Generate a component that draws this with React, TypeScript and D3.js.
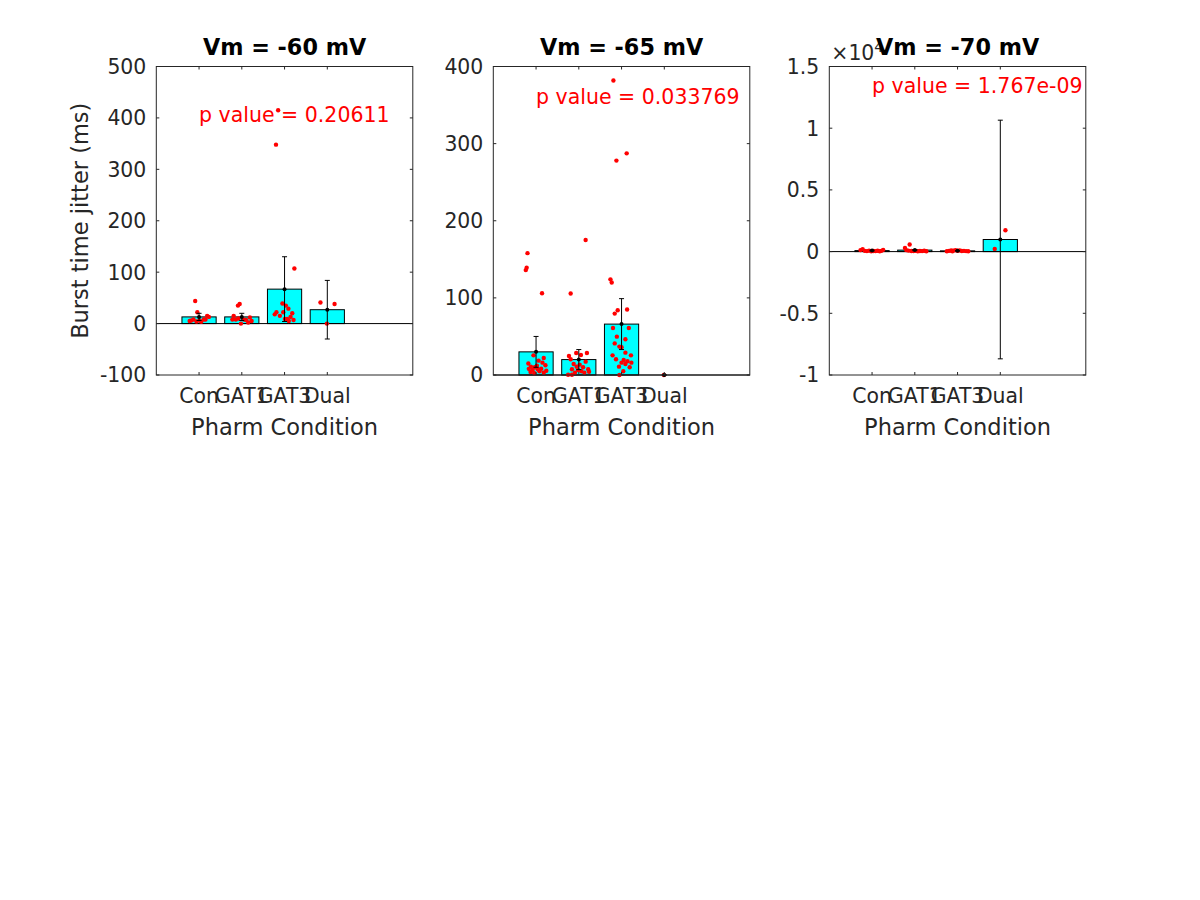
import React from "react";
import * as d3 from "d3";

// ---------- data ----------
const categories = ["Con", "GAT1", "GAT3", "Dual"];
const titles = ["Vm = -60 mV", "Vm = -65 mV", "Vm = -70 mV"];
const pValueLabels = ["p value = 0.20611", "p value = 0.033769", "p value = 1.767e-09"];
const pValueY = [393, 351, 1.284]; // data-space baseline of the p value text

const yDomain60 = [-100, 500];
const yDomain65 = [0, 400];
const yDomain70 = [-1, 1.5];
const yTicks60 = [-100, 0, 100, 200, 300, 400, 500];
const yTicks65 = [0, 100, 200, 300, 400];
const yTicks70 = [-1, -0.5, 0, 0.5, 1, 1.5];

const means60 = [13, 13, 67, 27];
const sems60 = [7, 7, 63, 57];
const means65 = [30, 20, 66, 0];
const sems65 = [20, 13, 33, 0];
const means70 = [0.008, 0.012, 0.006, 0.098];
const sems70 = [0.003, 0.004, 0.002, 0.967];

// individual cells: [jitter offset (category units), value]
const pts60Con = [[-0.09, 44], [-0.04, 22], [-0.22, 5], [-0.18, 6], [-0.13, 8], [0.01, 6], [0.05, 3.5], [0.11, 8], [0.15, 8], [0.19, 15], [0.23, 13], [-0.06, 4]];
const pts60GAT1 = [[-0.09, 35], [-0.05, 38], [-0.19, 15], [-0.22, 8], [-0.14, 8], [-0.02, 0], [0.05, 8], [0.1, 7], [0.15, 2], [0.19, 12], [0.23, 5], [-0.08, 10]];
const pts60GAT3 = [[0.23, 107], [-0.15, 415], [-0.2, 348], [-0.05, 39], [0.03, 35], [0.09, 29], [-0.19, 22], [-0.23, 18], [-0.11, 15], [-0.03, 22], [0.18, 20], [0.14, 13], [0.01, 9], [0.06, 9], [0.21, 7], [0.1, 5]];
const pts60Dual = [[-0.16, 41], [0.17, 38], [-0.01, 0]];

const pts65Con = [[-0.2, 158], [-0.22, 139], [-0.24, 136], [0.14, 106], [-0.06, 25.5], [0.18, 22], [-0.18, 15], [0.06, 18.6], [0.15, 16], [0.22, 12.6], [-0.12, 10.8], [-0.03, 10], [0.04, 7.4], [0.12, 8.2], [-0.13, 3.9], [-0.04, 2.2], [0.08, 4.8], [0.24, 5.6], [-0.08, 6.5], [-0.17, 8], [0.02, 12], [0.18, 3]];
const pts65GAT1 = [[-0.19, 105.6], [0.16, 175], [-0.23, 24.7], [-0.19, 20.4], [-0.06, 28.6], [0.05, 26], [0.19, 28.6], [-0.12, 14.3], [-0.05, 10.8], [0.02, 13.4], [0.1, 10], [0.16, 17.3], [0.22, 7.4], [-0.16, 7.4], [-0.02, 6.5], [0.06, 4.8], [-0.25, 0.4], [-0.16, 0.4], [-0.09, 3], [0.13, 3], [0.24, 4.3]];
const pts65GAT3 = [[-0.19, 381.8], [0.12, 287.4], [-0.12, 278], [-0.26, 124], [-0.23, 120], [0.13, 85], [-0.09, 84], [-0.16, 79.6], [-0.2, 61], [0.17, 61], [-0.11, 49.7], [0.09, 46.3], [-0.16, 41], [-0.05, 36.8], [0.0, 35.9], [0.22, 25.5], [-0.21, 25.5], [0.09, 29], [-0.13, 20.4], [0.05, 19.5], [0.23, 16], [0.0, 16], [-0.06, 10.8], [0.19, 10], [0.09, 14.3], [0.04, 4.8], [-0.05, 0], [0.14, 17.8]];
const pts65Dual = [[-0.01, 0]];

const pts70Con = [[-0.27, 0.012], [-0.22, 0.02], [-0.17, 0.006], [-0.12, 0.004], [-0.07, 0.008], [-0.02, 0.003], [0.03, 0.005], [0.08, 0.004], [0.13, 0.007], [0.18, 0.003], [0.22, 0.006], [0.26, 0.014]];
const pts70GAT1 = [[-0.12, 0.057], [-0.23, 0.03], [-0.2, 0.012], [-0.15, 0.008], [-0.08, 0.005], [-0.03, 0.004], [0.02, 0.006], [0.07, 0.003], [0.12, 0.005], [0.17, 0.004], [0.22, 0.007], [0.27, 0.003]];
const pts70GAT3 = [[-0.25, 0.003], [-0.2, 0.006], [-0.15, 0.009], [-0.1, 0.008], [-0.05, 0.012], [0.0, 0.007], [0.05, 0.01], [0.1, 0.005], [0.15, 0.006], [0.2, 0.004], [0.25, 0.003], [-0.12, 0.002]];
const pts70Dual = [[0.12, 0.173], [-0.13, 0.022]];

const panels = [
  { title: titles[0], p: pValueLabels[0], pY: pValueY[0], domain: yDomain60, ticks: yTicks60, means: means60, sems: sems60, pts: [pts60Con, pts60GAT1, pts60GAT3, pts60Dual], exp: null },
  { title: titles[1], p: pValueLabels[1], pY: pValueY[1], domain: yDomain65, ticks: yTicks65, means: means65, sems: sems65, pts: [pts65Con, pts65GAT1, pts65GAT3, pts65Dual], exp: null },
  { title: titles[2], p: pValueLabels[2], pY: pValueY[2], domain: yDomain70, ticks: yTicks70, means: means70, sems: sems70, pts: [pts70Con, pts70GAT1, pts70GAT3, pts70Dual], exp: "4" },
];

// ---------- layout ----------
const boxLefts = [156.3, 493.3, 829.3];
const boxWidth = 256.5;
const boxTop = 66.5;
const boxBottom = 375;
const FONT = "'DejaVu Sans', sans-serif";
const AX = "#262626";

function Panel({ cfg, left, showYLabel }: any) {
  const x = d3.scaleLinear().domain([0, 6]).range([left, left + boxWidth]);
  const y = d3.scaleLinear().domain(cfg.domain).range([boxBottom, boxTop]);
  const barW = x(0.8) - x(0);
  const tl = 3;
  const capW = 2.5;
  const fmt = (v: number) => String(v);
  const right = left + boxWidth;
  const cx = left + boxWidth / 2;
  return (
    <g>
      {cfg.means.map((m: number, i: number) => {
        const y0 = y(0), y1 = y(m);
        return (
          <rect key={"b" + i} x={x(i + 1) - barW / 2} y={Math.min(y0, y1)} width={barW} height={Math.abs(y1 - y0)} fill="#00FFFF" stroke="#000" strokeWidth={1} />
        );
      })}
      <line x1={left} x2={right} y1={y(0)} y2={y(0)} stroke="#000" strokeWidth={1} />
      {cfg.pts.map((arr: number[][], i: number) =>
        arr.map((p, j) => <circle key={"p" + i + "_" + j} cx={x(i + 1 + p[0])} cy={y(p[1])} r={2.2} fill="#FF0000" />)
      )}
      {cfg.means.map((m: number, i: number) => {
        const xc = x(i + 1);
        const yt = y(m + cfg.sems[i]);
        const yb = y(m - cfg.sems[i]);
        return (
          <g key={"e" + i} stroke="#000" strokeWidth={1}>
            <line x1={xc} x2={xc} y1={yt} y2={yb} />
            <line x1={xc - capW} x2={xc + capW} y1={yt} y2={yt} />
            <line x1={xc - capW} x2={xc + capW} y1={yb} y2={yb} />
            <circle cx={xc} cy={y(m)} r={2} fill="#000" stroke="none" />
          </g>
        );
      })}
      <rect x={left} y={boxTop} width={boxWidth} height={boxBottom - boxTop} fill="none" stroke={AX} strokeWidth={1} />
      {cfg.ticks.map((t: number) => (
        <g key={"yt" + t}>
          <line x1={left} x2={left + tl} y1={y(t)} y2={y(t)} stroke={AX} />
          <line x1={right} x2={right - tl} y1={y(t)} y2={y(t)} stroke={AX} />
          <text x={left - 10} y={y(t)} dy="0.36em" textAnchor="end" fontSize={20.4} fill={AX} fontFamily={FONT}>{fmt(t)}</text>
        </g>
      ))}
      {categories.map((c, i) => (
        <g key={"xt" + c}>
          <line x1={x(i + 1)} x2={x(i + 1)} y1={boxBottom} y2={boxBottom - tl} stroke={AX} />
          <line x1={x(i + 1)} x2={x(i + 1)} y1={boxTop} y2={boxTop + tl} stroke={AX} />
          <text x={x(i + 1)} y={403} textAnchor="middle" fontSize={20.4} fill={AX} fontFamily={FONT}>{c}</text>
        </g>
      ))}
      {cfg.exp && (
        <text x={left + 2} y={59.5} fontSize={20.4} fill={AX} fontFamily={FONT}>
          ×10<tspan fontSize={14} dy={-8}>{cfg.exp}</tspan>
        </text>
      )}
      <text x={x(1)} y={y(cfg.pY)} fontSize={20.5} fill="#FF0000" fontFamily={FONT}>{cfg.p}</text>
      <text x={cx} y={55} textAnchor="middle" fontSize={22.3} fontWeight="bold" fill="#000" fontFamily={FONT}>{cfg.title}</text>
      <text x={cx} y={435} textAnchor="middle" fontSize={22.5} fill={AX} fontFamily={FONT}>Pharm Condition</text>
      {showYLabel && (
        <text transform={`translate(88,${(boxTop + boxBottom) / 2}) rotate(-90)`} textAnchor="middle" fontSize={22.5} fill={AX} fontFamily={FONT}>Burst time jitter (ms)</text>
      )}
    </g>
  );
}

export default function App() {
  return (
    <svg width={1200} height={900} style={{ position: "absolute", left: 0, top: 0, background: "#fff" }}>
      <rect x={0} y={0} width={1200} height={900} fill="#fff" />
      {panels.map((cfg, i) => (
        <Panel key={i} cfg={cfg} left={boxLefts[i]} showYLabel={i === 0} />
      ))}
    </svg>
  );
}
